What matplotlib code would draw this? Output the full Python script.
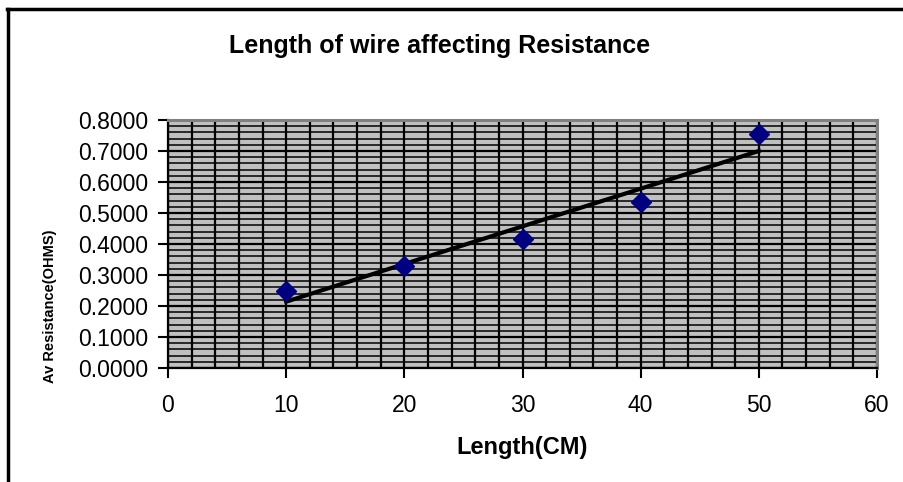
import numpy as np
import matplotlib
matplotlib.use("Agg")
import matplotlib.pyplot as plt
from matplotlib.lines import Line2D
from matplotlib.ticker import MultipleLocator, FormatStrFormatter

length_cm = [10, 20, 30, 40, 50]
resistance = [0.25, 0.33, 0.415, 0.535, 0.755]
x_ticks = [0, 10, 20, 30, 40, 50, 60]
y_ticks = [0.0, 0.1, 0.2, 0.3, 0.4, 0.5, 0.6, 0.7, 0.8]

plt.rcParams['font.family'] = ['Liberation Sans', 'DejaVu Sans']

W, H = 904, 482
fig = plt.figure(figsize=(W / 100, H / 100), dpi=100)
ax = fig.add_axes([168 / W, 1 - 368 / H, (877 - 168) / W, (368 - 120) / H])
ax.set_facecolor('#C0C0C0')

ax.set_xlim(0, 60)
ax.set_ylim(0, 0.8)
ax.set_xticks(x_ticks)
ax.set_yticks(y_ticks)
ax.xaxis.set_minor_locator(MultipleLocator(2))
ax.yaxis.set_minor_locator(MultipleLocator(0.02))
ax.yaxis.set_major_formatter(FormatStrFormatter('%.4f'))

# excel style grid: black lines over grey plot area
ax.grid(which='major', color='black', linewidth=1.6)
ax.grid(which='minor', axis='x', color='black', linewidth=1.6)
ax.grid(which='minor', axis='y', color='black', linewidth=1.1)
ax.set_axisbelow(True)

ax.tick_params(which='major', direction='out', length=7, width=1.5,
               labelsize=16.5, colors='black')
ax.tick_params(axis='x', which='major', pad=12)
ax.tick_params(axis='y', which='major', pad=7)
ax.tick_params(which='minor', length=0)
for side in ['left', 'bottom']:
    ax.spines[side].set_color('black')
    ax.spines[side].set_linewidth(1.6)
for side in ['top', 'right']:
    ax.spines[side].set_color('#808080')
    ax.spines[side].set_linewidth(2.2)

# linear trendline
coef = np.polyfit(length_cm, resistance, 1)
xs = np.array([length_cm[0], length_cm[-1]])
ax.plot(xs, np.polyval(coef, xs), color='black', linewidth=3.0, zorder=3)

ax.plot(length_cm, resistance, linestyle='none', marker='D', markersize=10,
        color='#000080', zorder=4, clip_on=False)

fig.text(440 / W, 1 - 46 / H, 'Length of wire affecting Resistance', fontsize=18,
         fontweight='bold', ha='center', va='center')

ax.set_xlabel('Length(CM)', fontsize=17, fontweight='bold')
ax.xaxis.set_label_coords(0.5, (368 - 448) / 248)
ax.xaxis.label.set_va('center')

ax.set_ylabel('Av Resistance(OHMS)', fontsize=10.5, fontweight='bold',
              family=['Liberation Sans Narrow', 'Liberation Sans'])
ax.yaxis.set_label_coords((50 - 168) / 709, (368 - 306) / 248)
ax.yaxis.label.set_va('center')

# outer chart border
fig.add_artist(Line2D([8 / W, 8 / W], [0, 1 - 9 / H], transform=fig.transFigure,
                      color='black', linewidth=2.5))
fig.add_artist(Line2D([7 / W, 1], [1 - 9 / H, 1 - 9 / H], transform=fig.transFigure,
                      color='black', linewidth=2.5))

fig.savefig('out.png', dpi=100)
